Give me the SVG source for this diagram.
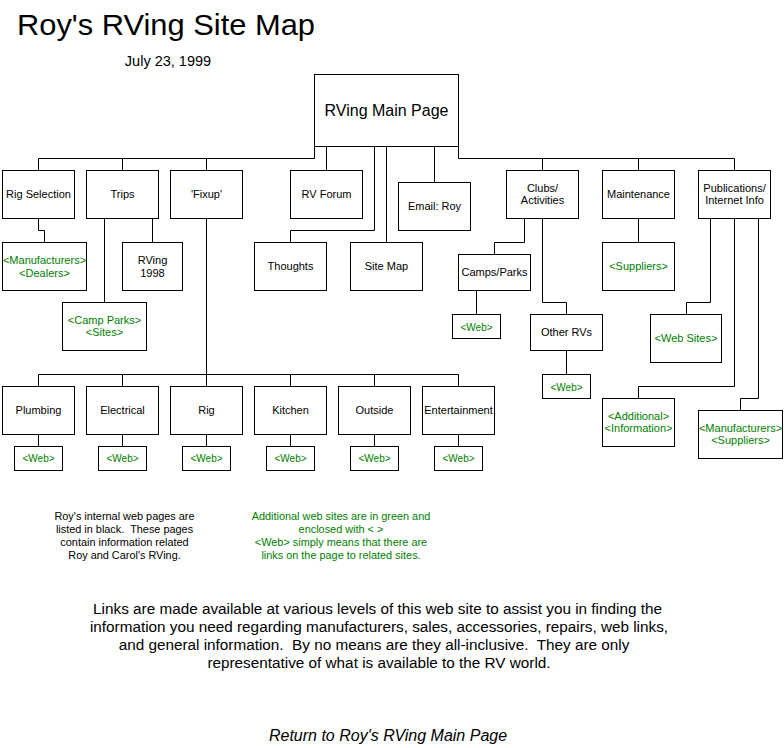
<svg xmlns="http://www.w3.org/2000/svg" width="784" height="748" viewBox="0 0 784 748">
<style>
.b{fill:#fff;stroke:#000;stroke-width:1}
.t{font-family:"Liberation Sans",Arial,sans-serif;font-size:11px;fill:#000;text-anchor:middle;white-space:pre}
.g{fill:#008000}
.w{font-size:10px}
.l{font-size:10.9px}
.c{fill:none;stroke:#000;stroke-width:1}
.p{font-family:"Liberation Sans",Arial,sans-serif;font-size:15.3px;fill:#000;text-anchor:middle;white-space:pre}
</style>
<rect width="784" height="748" fill="#fff"/>
<text x="17" y="35" font-family="Liberation Sans,Arial,sans-serif" font-size="30" textLength="298" lengthAdjust="spacingAndGlyphs">Roy's RVing Site Map</text>
<text x="168" y="66" class="p" style="font-size:14.5px">July 23, 1999</text>

<g id="connectors" class="c">
<path d="M38.5,170.5V158.5H314.5V146.5"/>
<path d="M458.5,146.5V158.5H734.5V170.5"/>
<path d="M122.5,158.5V170.5M206.5,158.5V170.5M542.5,158.5V170.5M638.5,158.5V170.5"/>
<path d="M326.5,146.5V170.5"/>
<path d="M374.5,146.5V230.5H290.5V242.5"/>
<path d="M386.5,146.5V242.5"/>
<path d="M434.5,146.5V182.5"/>
<path d="M38.5,218.5V230.5H44.5V242.5"/>
<path d="M152.5,218.5V242.5"/>
<path d="M104.5,218.5V302.5"/>
<path d="M206.5,218.5V386.5"/>
<path d="M38.5,386.5V374.5H458.5V386.5M122.5,374.5V386.5M290.5,374.5V386.5M374.5,374.5V386.5"/>
<path d="M38.5,434.5V446.5M122.5,434.5V446.5M206.5,434.5V446.5M290.5,434.5V446.5M374.5,434.5V446.5M458.5,434.5V446.5"/>
<path d="M524.5,218.5V242.5H494.5V254.5"/>
<path d="M476.5,290.5V314.5"/>
<path d="M542.5,218.5V302.5H566.5V314.5"/>
<path d="M566.5,350.5V374.5"/>
<path d="M638.5,218.5V242.5"/>
<path d="M710.5,218.5V302.5H686.5V314.5"/>
<path d="M734.5,218.5V386.5H638.5V398.5"/>
<path d="M758.5,218.5V398.5H740.5V410.5"/>
</g>

<g id="main"><rect class="b" x="314.5" y="74.5" width="144" height="72"/><text class="t" x="386.5" y="115.5" style="font-size:16px">RVing Main Page</text></g>

<g id="rig-selection"><rect class="b" x="2.5" y="170.5" width="72" height="48"/><text class="t" x="38.5" y="198">Rig Selection</text></g>
<g id="trips"><rect class="b" x="86.5" y="170.5" width="72" height="48"/><text class="t" x="122.5" y="198">Trips</text></g>
<g id="fixup"><rect class="b" x="170.5" y="170.5" width="72" height="48"/><text class="t" x="206.5" y="198">'Fixup'</text></g>
<g id="rv-forum"><rect class="b" x="290.5" y="170.5" width="72" height="48"/><text class="t" x="326.5" y="198">RV Forum</text></g>
<g id="email"><rect class="b" x="398.5" y="182.5" width="72" height="48"/><text class="t" x="434.5" y="210">Email: Roy</text></g>
<g id="thoughts"><rect class="b" x="254.5" y="242.5" width="72" height="48"/><text class="t" x="290.5" y="270">Thoughts</text></g>
<g id="site-map"><rect class="b" x="350.5" y="242.5" width="72" height="48"/><text class="t" x="386.5" y="270">Site Map</text></g>
<g id="clubs"><rect class="b" x="506.5" y="170.5" width="72" height="48"/><text class="t" x="542.5" y="192">Clubs/</text><text class="t" x="542.5" y="204">Activities</text></g>
<g id="maintenance"><rect class="b" x="602.5" y="170.5" width="72" height="48"/><text class="t" x="638.5" y="198">Maintenance</text></g>
<g id="publications"><rect class="b" x="698.5" y="170.5" width="72" height="48"/><text class="t" x="734.5" y="192">Publications/</text><text class="t" x="734.5" y="204">Internet Info</text></g>

<g id="manufacturers-dealers"><rect class="b" x="2.5" y="242.5" width="84" height="48"/><text class="t g" x="44.5" y="264">&lt;Manufacturers&gt;</text><text class="t g" x="44.5" y="276.5">&lt;Dealers&gt;</text></g>
<g id="rving-1998"><rect class="b" x="122.5" y="242.5" width="60" height="48"/><text class="t" x="152.5" y="264">RVing</text><text class="t" x="152.5" y="276.5">1998</text></g>
<g id="camp-parks-sites"><rect class="b" x="62.5" y="302.5" width="84" height="48"/><text class="t g" x="104.5" y="323.5">&lt;Camp Parks&gt;</text><text class="t g" x="104.5" y="335.5">&lt;Sites&gt;</text></g>

<g id="camps-parks"><rect class="b" x="458.5" y="254.5" width="72" height="36"/><text class="t" x="494.5" y="275.5">Camps/Parks</text></g>
<g id="camps-web"><rect class="b" x="452.5" y="314.5" width="48" height="24"/><text class="t g w" x="476.5" y="330.5">&lt;Web&gt;</text></g>
<g id="other-rvs"><rect class="b" x="530.5" y="314.5" width="72" height="36"/><text class="t" x="566.5" y="335.5">Other RVs</text></g>
<g id="other-web"><rect class="b" x="542.5" y="374.5" width="48" height="24"/><text class="t g w" x="566.5" y="390.5">&lt;Web&gt;</text></g>
<g id="suppliers"><rect class="b" x="602.5" y="242.5" width="72" height="48"/><text class="t g" x="638.5" y="270">&lt;Suppliers&gt;</text></g>
<g id="web-sites"><rect class="b" x="650.5" y="314.5" width="71" height="48"/><text class="t g" x="686" y="342">&lt;Web Sites&gt;</text></g>
<g id="additional"><rect class="b" x="602.5" y="398.5" width="72" height="48"/><text class="t g" x="638.5" y="419.5">&lt;Additional&gt;</text><text class="t g" x="638.5" y="432">&lt;Information&gt;</text></g>
<g id="manufacturers-suppliers"><rect class="b" x="698.5" y="410.5" width="84" height="48"/><text class="t g" x="740.5" y="431.5">&lt;Manufacturers&gt;</text><text class="t g" x="740.5" y="444">&lt;Suppliers&gt;</text></g>

<g id="plumbing"><rect class="b" x="2.5" y="386.5" width="72" height="48"/><text class="t" x="38.5" y="414">Plumbing</text></g>
<g id="electrical"><rect class="b" x="86.5" y="386.5" width="72" height="48"/><text class="t" x="122.5" y="414">Electrical</text></g>
<g id="rig"><rect class="b" x="170.5" y="386.5" width="72" height="48"/><text class="t" x="206.5" y="414">Rig</text></g>
<g id="kitchen"><rect class="b" x="254.5" y="386.5" width="72" height="48"/><text class="t" x="290.5" y="414">Kitchen</text></g>
<g id="outside"><rect class="b" x="338.5" y="386.5" width="72" height="48"/><text class="t" x="374.5" y="414">Outside</text></g>
<g id="entertainment"><rect class="b" x="422.5" y="386.5" width="72" height="48"/><text class="t" x="458.5" y="414">Entertainment</text></g>

<g id="plumbing-web"><rect class="b" x="14.5" y="446.5" width="48" height="24"/><text class="t g w" x="38.5" y="462">&lt;Web&gt;</text></g>
<g id="electrical-web"><rect class="b" x="98.5" y="446.5" width="48" height="24"/><text class="t g w" x="122.5" y="462">&lt;Web&gt;</text></g>
<g id="rig-web"><rect class="b" x="182.5" y="446.5" width="48" height="24"/><text class="t g w" x="206.5" y="462">&lt;Web&gt;</text></g>
<g id="kitchen-web"><rect class="b" x="266.5" y="446.5" width="48" height="24"/><text class="t g w" x="290.5" y="462">&lt;Web&gt;</text></g>
<g id="outside-web"><rect class="b" x="350.5" y="446.5" width="48" height="24"/><text class="t g w" x="374.5" y="462">&lt;Web&gt;</text></g>
<g id="entertainment-web"><rect class="b" x="434.5" y="446.5" width="48" height="24"/><text class="t g w" x="458.5" y="462">&lt;Web&gt;</text></g>

<g id="legend-black">
<text class="t l" x="124.5" y="520">Roy's internal web pages are</text>
<text class="t l" x="124.5" y="533">listed in black.  These pages</text>
<text class="t l" x="124.5" y="546">contain information related</text>
<text class="t l" x="124.5" y="558.5">Roy and Carol's RVing.</text>
</g>
<g id="legend-green">
<text class="t l g" x="341" y="520">Additional web sites are in green and</text>
<text class="t l g" x="341" y="533">enclosed with &lt; &gt;</text>
<text class="t l g" x="341" y="546">&lt;Web&gt; simply means that there are</text>
<text class="t l g" x="341" y="558.5">links on the page to related sites.</text>
</g>

<g id="paragraph">
<text class="p" x="377.5" y="614">Links are made available at various levels of this web site to assist you in finding the</text>
<text class="p" x="379" y="632">information you need regarding manufacturers, sales, accessories, repairs, web links,</text>
<text class="p" x="374" y="650">and general information.  By no means are they all-inclusive.  They are only</text>
<text class="p" x="379" y="668">representative of what is available to the RV world.</text>
</g>
<text class="p" x="388" y="741" style="font-size:16px;font-style:italic">Return to Roy's RVing Main Page</text>
</svg>
